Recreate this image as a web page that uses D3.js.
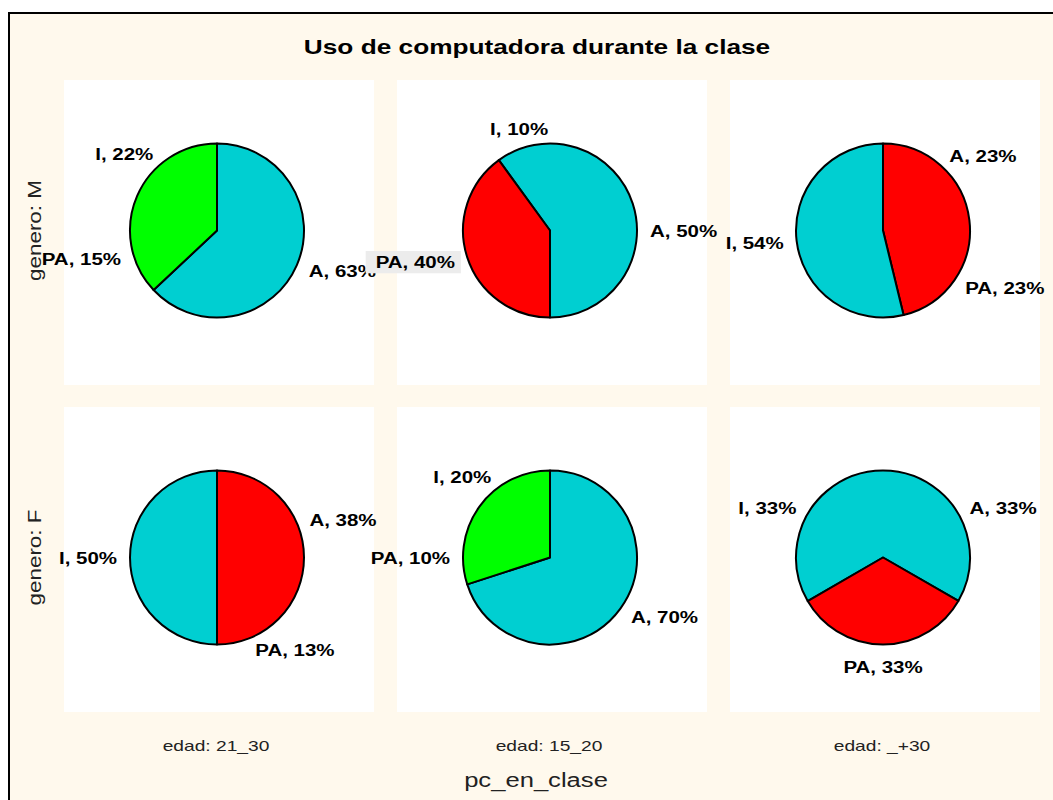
<!DOCTYPE html>
<html>
<head>
<meta charset="utf-8">
<script src="https://cdn.jsdelivr.net/npm/d3@7"></script>
<style>
    body { margin: 0; background: #ffffff; }
    svg { display: block; }
    text { font-family: "Liberation Sans", Arial, sans-serif; }
    .label { font-weight: bold; font-size: 16px; fill: #000; }
    .strip { font-size: 15px; fill: #222; }
</style>
</head>
<body>
<div id="chart"></div>
<script>
// facets
const rowNames = ['genero: M', 'genero: F'];
const colNames = ['edad: 21_30', 'edad: 15_20', 'edad: _+30'];
const categories = ['A', 'PA', 'I'];

// percentages per panel (row-major), order A, PA, I
const shares = [
    [63, 15, 22],
    [50, 40, 10],
    [23.1, 23.1, 53.8],
    [37.5, 12.5, 50],
    [70, 10, 20],
    [33.33, 33.33, 33.34]
];

// fill colour drawn for each category in each panel
const sliceColors = [
    ['cyan', 'green', 'green'],
    ['cyan', 'red', 'cyan'],
    ['red', 'red', 'cyan'],
    ['red', 'red', 'cyan'],
    ['cyan', 'green', 'green'],
    ['cyan', 'red', 'cyan']
];

const palette = { cyan: '#00cfd1', green: '#00ff00', red: '#ff0000' };

// the label that carries a grey box in the original
const boxedLabel = { panel: 1, category: 'PA' };

const width = 1053, height = 800;
const R = 87;
// the original renders its text noticeably wider than Arial
const stretch = 1.28;

const svg = d3.select('#chart').append('svg')
    .attr('width', width)
    .attr('height', height);

function wideText(parent, px, py, rot) {
    return parent.append('text')
        .attr('transform', `translate(${px},${py})` + (rot ? ` rotate(${rot})` : '') + ` scale(${stretch},1)`);
}

// frame
svg.append('rect')
    .attr('x', 9).attr('y', 13)
    .attr('width', 1100).attr('height', 900)
    .attr('fill', '#fff9ed')
    .attr('stroke', '#000')
    .attr('stroke-width', 2);

wideText(svg, 537, 54)
    .attr('text-anchor', 'middle')
    .style('font-weight', 'bold')
    .style('font-size', '20.5px')
    .text('Uso de computadora durante la clase');

const x = d3.scaleBand().domain(colNames).range([64, 1040]).paddingInner(23 / 333);
const y = d3.scaleBand().domain(rowNames).range([80, 712]).paddingInner(22 / 327);

const pie = d3.pie().sort(null).value(d => d);
const arc = d3.arc().innerRadius(0).outerRadius(R);

rowNames.forEach((rowName, ri) => {
    colNames.forEach((colName, ci) => {
        const idx = ri * colNames.length + ci;
        const g = svg.append('g');

        g.append('rect')
            .attr('x', x(colName)).attr('y', y(rowName))
            .attr('width', x.bandwidth()).attr('height', y.bandwidth())
            .attr('fill', '#ffffff');

        const cx = x(colName) + x.bandwidth() / 2 - 2;
        const cy = y(rowName) + y.bandwidth() / 2 - 2;
        const pg = g.append('g').attr('transform', `translate(${cx},${cy})`);

        const arcs = pie(shares[idx]);

        // merge neighbouring slices drawn in the same colour
        const runs = [];
        arcs.forEach((a, k) => {
            const col = sliceColors[idx][k];
            const last = runs[runs.length - 1];
            if (last && last.color === col) {
                last.endAngle = a.endAngle;
            } else {
                runs.push({ color: col, startAngle: a.startAngle, endAngle: a.endAngle });
            }
        });
        if (runs.length > 1 && runs[0].color === runs[runs.length - 1].color) {
            const tail = runs.pop();
            runs[0].startAngle = tail.startAngle - 2 * Math.PI;
        }

        pg.selectAll('path')
            .data(runs)
            .enter().append('path')
            .attr('d', d => arc({ innerRadius: 0, outerRadius: R, startAngle: d.startAngle, endAngle: d.endAngle }))
            .attr('fill', d => palette[d.color])
            .attr('stroke', '#000')
            .attr('stroke-width', 2)
            .attr('stroke-linejoin', 'round');

        // slice labels
        const lr = R + 13;
        arcs.forEach((a, k) => {
            const mid = (a.startAngle + a.endAngle) / 2;
            const sx = Math.sin(mid), cy2 = -Math.cos(mid);
            const px = lr * sx, py = lr * cy2;
            let anchor = 'middle', dy = '0.4em';
            if (sx > 0.35) anchor = 'start';
            else if (sx < -0.35) anchor = 'end';
            else dy = cy2 < 0 ? '-0.05em' : '0.95em';

            const cat = categories[k];
            const t = wideText(pg, px, py)
                .attr('class', 'label')
                .attr('dy', dy)
                .attr('text-anchor', anchor)
                .text(`${cat}, ${Math.round(shares[idx][k])}%`);

            if (boxedLabel.panel === idx && boxedLabel.category === cat) {
                const bb = t.node().getBBox();
                pg.insert('rect', 'text')
                    .attr('x', px + bb.x * stretch - 10).attr('y', py + bb.y - 2)
                    .attr('width', bb.width * stretch + 16).attr('height', bb.height + 4)
                    .attr('fill', '#ececec');
            }
        });
    });
});

// strip labels
colNames.forEach(c => {
    wideText(svg, x(c) + x.bandwidth() / 2 - 3, 751)
        .attr('class', 'strip')
        .attr('text-anchor', 'middle')
        .text(c);
});

rowNames.forEach(r => {
    const yc = y(r) + y.bandwidth() / 2 - 2;
    wideText(svg, 41, yc, -90)
        .attr('class', 'strip')
        .attr('text-anchor', 'middle')
        .style('font-size', '17.5px')
        .text(r);
});

wideText(svg, 536, 787)
    .attr('text-anchor', 'middle')
    .style('font-size', '20px')
    .style('fill', '#222')
    .text('pc_en_clase');
</script>
</body>
</html>
